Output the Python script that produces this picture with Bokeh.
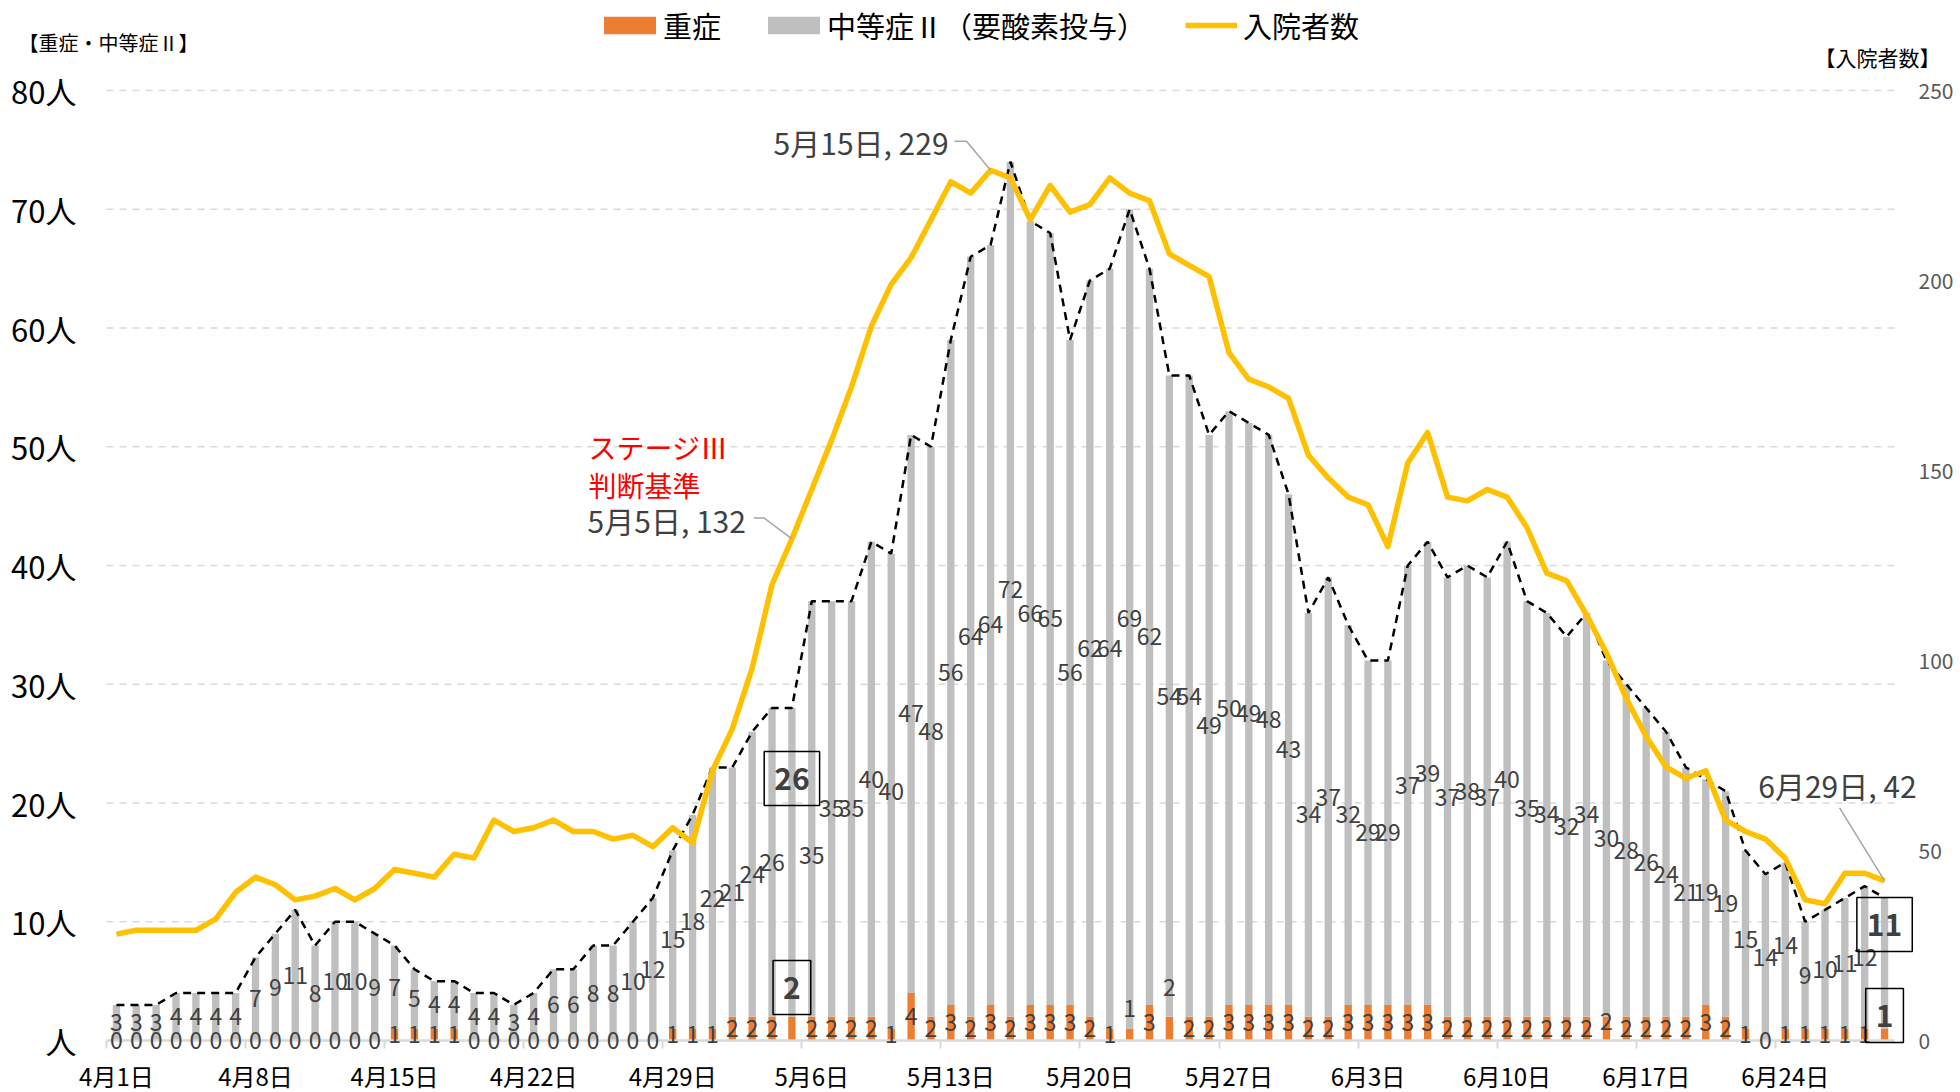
from bokeh.plotting import figure
from bokeh.models import (Range1d, LinearAxis, FixedTicker, Legend, LegendItem,
                          Label, LabelSet, ColumnDataSource)
from bokeh.embed import file_html
from bokeh.resources import INLINE
from bokeh.core.properties import value

# ---------------- data ----------------
tick_labels = ["4月1日", "4月8日", "4月15日", "4月22日", "4月29日", "5月6日", "5月13日",
               "5月20日", "5月27日", "6月3日", "6月10日", "6月17日", "6月24日"]

# 重症 (Apr 1 .. Jun 29)
severe = [0, 0, 0, 0, 0, 0, 0, 0, 0, 0, 0, 0, 0, 0, 1, 1, 1, 1, 0, 0,
          0, 0, 0, 0, 0, 0, 0, 0, 1, 1,
          1, 2, 2, 2, 2, 2, 2, 2, 2, 1, 4, 2, 3, 2, 3, 2, 3, 3, 3, 2,
          1, 1, 3, 2, 2, 2, 3, 3, 3, 3, 2,
          2, 3, 3, 3, 3, 3, 2, 2, 2, 2, 2, 2, 2, 2, 2, 2, 2, 2, 2, 3,
          2, 1, 0, 1, 1, 1, 1, 1, 1]

# 中等症Ⅱ（要酸素投与）
moderate = [3, 3, 3, 4, 4, 4, 4, 7, 9, 11, 8, 10, 10, 9, 7, 5, 4, 4, 4, 4,
            3, 4, 6, 6, 8, 8, 10, 12, 15, 18,
            22, 21, 24, 26, 26, 35, 35, 35, 40, 40, 47, 48, 56, 64, 64, 72, 66, 65, 56, 62,
            64, 69, 62, 54, 54, 49, 50, 49, 48, 43, 34,
            37, 32, 29, 29, 37, 39, 37, 38, 37, 40, 35, 34, 32, 34, 30, 28, 26, 24, 21, 19,
            19, 15, 14, 14, 9, 10, 11, 12, 11]

# 入院者数
hospitalized = [28, 29, 29, 29, 29, 32, 39, 43, 41, 37, 38, 40, 37, 40, 45, 44, 43, 49, 48, 58,
                55, 56, 58, 55, 55, 53, 54, 51, 56, 52,
                71, 82, 98, 120, 132, 145, 158, 172, 188, 199, 206, 216, 226, 223, 229, 227, 216, 225, 218, 220,
                227, 223, 221, 207, 204, 201, 181, 174, 172, 169, 154,
                148, 143, 141, 130, 152, 160, 143, 142, 145, 143, 135, 123, 121, 112, 102, 90, 80, 72, 69, 71,
                58, 55, 53, 48, 37, 36, 44, 44, 42]

left_ticks = [0, 10, 20, 30, 40, 50, 60, 70, 80]
right_ticks = [0, 50, 100, 150, 200, 250]

# ---------------- layout ----------------
CJK = "Noto Sans CJK JP"
N = len(moderate)
xs = list(range(N))
total = [s + m for s, m in zip(severe, moderate)]
LMAX, RMAX = left_ticks[-1], right_ticks[-1]

W, H = 1960, 1092                 # canvas
PLOT_W, PLOT_H = 1788, 950        # data area
BL, BT = 106, 90                  # data area offset inside canvas
BR, BB = W - BL - PLOT_W, H - BT - PLOT_H
PX_X = PLOT_W / N
PX_L = PLOT_H / LMAX
PX_H = PLOT_H / RMAX
X0, Y0 = BL, BT + PLOT_H          # px of data-area left / baseline


def xd(px):   # canvas px -> category coordinate
    return (px - X0) / PX_X - 0.5


def yd(py):   # canvas px -> left-axis coordinate
    return (Y0 - py) / PX_L


p = figure(width=W, height=H, output_backend="svg", toolbar_location=None,
           x_range=Range1d(-0.5 - BL / PX_X, N - 0.5 + BR / PX_X),
           y_range=Range1d(-BB / PX_L, LMAX + BT / PX_L),
           min_border_left=0, min_border_right=0, min_border_top=0, min_border_bottom=0,
           background_fill_color="white", border_fill_color="white", outline_line_color=None)
p.extra_y_ranges = {"hosp": Range1d(-BB / PX_H, RMAX + BT / PX_H)}
p.grid.visible = False

# dashed horizontal grid over the data area
p.segment(x0=-0.5, x1=N - 0.5, y0=left_ticks[1:], y1=left_ticks[1:],
          line_color="#D9D9D9", line_width=1.5, line_dash="7 6")

# left axis
ya = p.yaxis[0]
ya.fixed_location = -0.5
ya.bounds = (0, LMAX)
ya.ticker = FixedTicker(ticks=left_ticks)
ya.major_label_overrides = {t: (f"{t}人" if t else "人") for t in left_ticks}
ya.axis_line_color = None
ya.major_tick_line_color = None
ya.minor_tick_line_color = None
ya.major_label_text_font = CJK
ya.major_label_text_font_size = "31px"
ya.major_label_text_color = "black"
ya.major_label_standoff = 24

# x axis
tick_idx = list(range(0, 7 * len(tick_labels), 7))
xa = p.xaxis[0]
xa.fixed_location = 0
xa.bounds = (-0.5, N - 0.5)
xa.ticker = FixedTicker(ticks=tick_idx, minor_ticks=[t - 0.5 for t in tick_idx])
xa.major_label_overrides = {t: lab for t, lab in zip(tick_idx, tick_labels)}
xa.axis_line_color = "#D9D9D9"
xa.axis_line_width = 2.5
xa.major_tick_line_color = None
xa.major_tick_out = 0
xa.major_tick_in = 0
xa.minor_tick_line_color = "#D9D9D9"
xa.minor_tick_line_width = 2
xa.minor_tick_out = 8
xa.minor_tick_in = 0
xa.major_label_text_font = CJK
xa.major_label_text_font_size = "24px"
xa.major_label_text_color = "black"
xa.major_label_standoff = 9

# right axis
ra = LinearAxis(y_range_name="hosp", ticker=FixedTicker(ticks=right_ticks))
ra.fixed_location = N - 0.5
ra.bounds = (0, RMAX)
ra.axis_line_color = None
ra.major_tick_line_color = None
ra.minor_tick_line_color = None
ra.major_label_text_font = CJK
ra.major_label_text_font_size = "21px"
ra.major_label_text_color = "#595959"
ra.major_label_standoff = 18
p.add_layout(ra, "right")

# ---------------- marks ----------------
src = ColumnDataSource(dict(x=xs, sev=severe, mod=moderate, tot=total, hosp=hospitalized))
r_sev = p.vbar(x="x", bottom=0, top="sev", width=0.37, fill_color="#ED7D31",
               line_color=None, source=src)
r_mod = p.vbar(x="x", bottom="sev", top="tot", width=0.37, fill_color="#BFBFBF",
               line_color=None, source=src)
p.line("x", "tot", source=src, line_color="black", line_width=2.5, line_dash="8 6")
r_hosp = p.line("x", "hosp", source=src, y_range_name="hosp", line_color="#FFC000",
                line_width=5.5, line_join="round")

# ---------------- data labels ----------------
boxed = {34, 89}
mod_moves = {35: 15.6}
sev_moves = {51: 2.7, 53: 4.5, 75: 1.6}
lx, ly, lt = [], [], []
for i in xs:
    if i in boxed:
        continue
    lx.append(i); ly.append(mod_moves.get(i, severe[i] + moderate[i] / 2)); lt.append(str(moderate[i]))
    lx.append(i); ly.append(sev_moves.get(i, severe[i] / 2)); lt.append(str(severe[i]))
lab_src = ColumnDataSource(dict(x=lx, y=ly, t=lt))
p.add_layout(LabelSet(x="x", y="y", text="t", source=lab_src, text_align="center",
                      text_baseline="middle", text_font=value(CJK), text_font_size="23px",
                      text_color="#404040"))

box_specs = [(34, yd(778), moderate[34]), (34, yd(987), severe[34]),
             (89, yd(924), moderate[89]), (89, yd(1015), severe[89])]
for bx, by, bv in box_specs:
    p.add_layout(Label(x=bx, y=by, text=str(bv), text_align="center", text_baseline="middle",
                       text_font=CJK, text_font_size="30px", text_font_style="bold",
                       text_color="#404040", border_line_color="black", border_line_width=1.5,
                       background_fill_alpha=0.0,
                       padding=dict(left=10, right=10, top=16, bottom=16)))

# ---------------- callouts ----------------
def callout(idx, text, dx, dy, leader):
    """text right edge at (dx, dy) px from the point; leader = list of px offsets"""
    v = hospitalized[idx]
    p.add_layout(Label(x=idx, y=v, y_range_name="hosp", x_offset=dx, y_offset=dy, text=text,
                       text_align="right", text_baseline="middle", text_font=CJK,
                       text_font_size="30px", text_color="#404040"))
    lxs = [idx + ox / PX_X for ox, oy in leader] + [idx]
    lys = [v + oy / PX_H for ox, oy in leader] + [v]
    p.line(lxs, lys, y_range_name="hosp", line_color="#A6A6A6", line_width=1.5)


callout(44, f"5月15日, {hospitalized[44]}", -42, 28, [(-36, 29), (-24, 29)])
callout(34, f"5月5日, {hospitalized[34]}", -46, 19, [(-38, 21), (-28, 21)])
callout(89, f"6月29日, {hospitalized[89]}", 32, 96, [(-45, 73)])

p.add_layout(Label(x=xd(588), y=yd(446), text="ステージⅢ", text_align="left", text_baseline="middle",
                   text_font=CJK, text_font_size="28px", text_color="#FF0000"))
p.add_layout(Label(x=xd(588), y=yd(484), text="判断基準", text_align="left", text_baseline="middle",
                   text_font=CJK, text_font_size="28px", text_color="#FF0000"))

# axis titles
p.add_layout(Label(x=xd(18), y=yd(42), text="【重症・中等症Ⅱ】", text_align="left",
                   text_baseline="middle", text_font=CJK, text_font_size="20px", text_color="black"))
p.add_layout(Label(x=xd(1940), y=yd(56), text="【入院者数】", text_align="right",
                   text_baseline="middle", text_font=CJK, text_font_size="21px", text_color="black"))

# legends (bars: swatch is drawn at 80% of the glyph box)
legend_bars = Legend(items=[LegendItem(label="重症", renderers=[r_sev]),
                            LegendItem(label="中等症Ⅱ（要酸素投与）", renderers=[r_mod])],
                     location=(597, H - 27 - 19), orientation="horizontal",
                     glyph_width=65, glyph_height=22,
                     label_text_font=CJK, label_text_font_size="29px", label_text_color="black",
                     label_standoff=1, spacing=40, padding=0, margin=0,
                     border_line_color=None, background_fill_alpha=0)
legend_line = Legend(items=[LegendItem(label="入院者数", renderers=[r_hosp])],
                     location=(1185, H - 27 - 19), orientation="horizontal",
                     glyph_width=52, glyph_height=22,
                     label_text_font=CJK, label_text_font_size="29px", label_text_color="black",
                     label_standoff=6, padding=0, margin=0,
                     border_line_color=None, background_fill_alpha=0)
p.add_layout(legend_bars, "center")
p.add_layout(legend_line, "center")

open("out.html", "w").write(file_html(p, INLINE))
